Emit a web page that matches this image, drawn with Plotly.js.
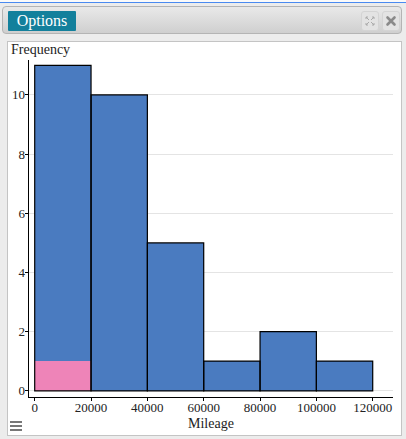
<!DOCTYPE html>
<html>
<head>
<meta charset="utf-8">
<script src="https://cdn.plot.ly/plotly-3.0.1.min.js"></script>
<style>
  html, body { margin:0; padding:0; width:406px; height:439px; overflow:hidden; background:#ececec; }
  #topstrip { position:absolute; left:0; top:0; width:406px; height:2px; background:#fafafa; }
  #blueline { position:absolute; left:0; top:2px; width:406px; height:1px; background:#4a8af0; }
  #header { position:absolute; left:2px; top:6px; width:400px; height:28px; border:1px solid #b4b4b4; border-radius:4px;
            background:linear-gradient(#e9e9e9, #cfcfcf); box-sizing:border-box; }
  #opts { position:absolute; left:8px; top:11px; width:68px; height:20px; background:#13809c; color:#fff;
          font-family:'Liberation Serif'; font-size:16px; line-height:20px; text-align:center; border-radius:1px; }
  .ibox { position:absolute; top:11px; width:18px; height:20px; background:#e3e3e3; border-radius:3px; border:1px solid #d4d4d4; box-sizing:border-box; }
  #panel { position:absolute; left:7px; top:41px; width:395px; height:395px; background:#fff; border:1px solid #c4c4c4; box-sizing:border-box; }
  #menu { position:absolute; left:10px; top:421px; width:12px; height:11px; }
  #menu div { position:absolute; left:0; width:12px; height:2px; background:#777; }
  #chart { position:absolute; left:0; top:0; width:406px; height:439px; }
</style>
</head>
<body>
<div id="topstrip"></div>
<div id="blueline"></div>
<div id="header"></div>
<div id="opts">Options</div>
<div class="ibox" style="left:361px;">
  <svg width="16" height="18" style="position:absolute;left:0;top:0">
    <g stroke="#aaa" stroke-width="1" fill="none">
      <path d="M4 5 L7 8 M4 5 L4 7 M4 5 L6 5"/>
      <path d="M12 5 L9 8 M12 5 L12 7 M12 5 L10 5"/>
      <path d="M4 13 L7 10 M4 13 L4 11 M4 13 L6 13"/>
      <path d="M12 13 L9 10 M12 13 L12 11 M12 13 L10 13"/>
    </g>
  </svg>
</div>
<div class="ibox" style="left:382px;">
  <svg width="16" height="18" style="position:absolute;left:0;top:0">
    <g stroke="#8a8a8a" stroke-width="2.6" stroke-linecap="round">
      <path d="M4.5 5.5 L11.5 12.5 M11.5 5.5 L4.5 12.5"/>
    </g>
  </svg>
</div>
<div id="panel"></div>
<div id="menu"><div style="top:0"></div><div style="top:4px"></div><div style="top:8px"></div></div>
<div id="chart"></div>
<script>
// ---- data ----
var binStarts = [0, 20000, 40000, 60000, 80000, 100000];
var binWidth = 20000;
var counts = [11, 10, 5, 1, 2, 1];
var selectedCounts = [1, 0, 0, 0, 0, 0];
var xTickVals = [0, 20000, 40000, 60000, 80000, 100000, 120000];
var yTickVals = [0, 2, 4, 6, 8, 10];
var xTitle = "Mileage";
var yTitle = "Frequency";

var centers = binStarts.map(function(s){ return s + binWidth/2; });
var widths = binStarts.map(function(){ return binWidth; });

var font = "Liberation Serif";

var traces = [
  { type:'bar', x:centers, y:counts, width:widths, marker:{color:'#4a7bc0', line:{width:0}}, hoverinfo:'skip' },
  { type:'bar', x:centers, y:selectedCounts, width:widths, marker:{color:'#ee84b8', line:{width:0}}, hoverinfo:'skip' },
  { type:'bar', x:centers, y:counts, width:widths, marker:{color:'rgba(0,0,0,0)', line:{color:'#000', width:1.2}}, hoverinfo:'skip' }
];

var layout = {
  width:406, height:439,
  margin:{l:29, r:13, t:60, b:42, pad:0},
  paper_bgcolor:'rgba(0,0,0,0)', plot_bgcolor:'rgba(0,0,0,0)',
  barmode:'overlay', bargap:0, showlegend:false,
  font:{family:font, size:13, color:'#222'},
  xaxis:{
    range:[-2024, 127200], tickvals:xTickVals, ticktext:xTickVals.map(String),
    ticks:'outside', ticklen:3, tickcolor:'#000', showline:true, linecolor:'#000', linewidth:1.3,
    showgrid:false, zeroline:false, ticklabelstandoff:-5,
    tickfont:{family:font, size:13, color:'#222'}
  },
  yaxis:{
    range:[-0.21, 11.18], tickvals:yTickVals, ticktext:yTickVals.map(String),
    ticks:'outside', ticklen:3, tickcolor:'#000', showline:true, linecolor:'#000', linewidth:1.3,
    showgrid:true, gridcolor:'#e4e4e4', gridwidth:1, zeroline:false, ticklabelstandoff:-3,
    tickfont:{family:font, size:13, color:'#222'}
  },
  annotations:[
    { text:yTitle, xref:'paper', yref:'paper', x:0, y:1, xanchor:'left', yanchor:'bottom',
      xshift:-20, yshift:1, showarrow:false, font:{family:font, size:14, color:'#222'} },
    { text:xTitle, xref:'paper', yref:'paper', x:0.5, y:0, xanchor:'center', yanchor:'top',
      yshift:-16.5, showarrow:false, font:{family:font, size:14, color:'#222'} }
  ]
};

Plotly.newPlot('chart', traces, layout, {displayModeBar:false, staticPlot:true});
</script>
</body>
</html>
